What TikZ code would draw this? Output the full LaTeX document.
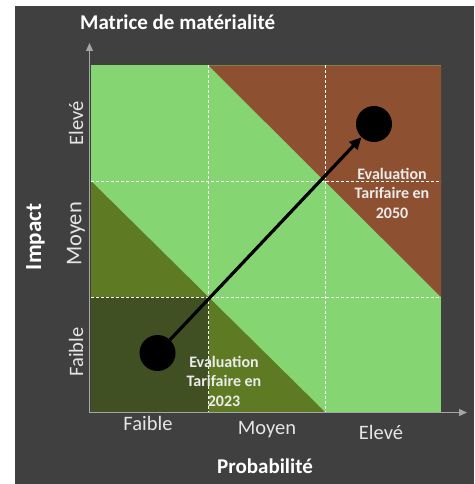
\documentclass[tikz,border=0pt]{standalone}
\usepackage{fontspec}
\setmainfont{Carlito}
\usetikzlibrary{arrows.meta}
\definecolor{bgdark}{HTML}{404040}
\definecolor{lgreen}{HTML}{85D673}
\definecolor{brownc}{HTML}{8D5030}
\definecolor{olivec}{HTML}{5E7A23}
\definecolor{darkolive}{HTML}{405023}
\definecolor{axisgray}{HTML}{A6A6A6}
\tikzset{
  gridline/.style={white, line width=0.9pt, dash pattern=on 3pt off 2pt},
  axisline/.style={axisgray, line width=1.2pt, -{Triangle[length=8pt,width=7pt]}},
  ticklbl/.style={text=white!90!black, font=\fontsize{20.5}{22}\selectfont, inner sep=0pt},
  axtitle/.style={text=white, font=\bfseries\fontsize{21}{23}\selectfont, inner sep=0pt},
  evallbl/.style={text=white!92!black, font=\bfseries\fontsize{16}{19.5}\selectfont, align=center, inner sep=0pt},
  dot/.style={circle, fill=black, minimum size=36pt, inner sep=0pt},
}
\begin{document}
\begin{tikzpicture}[x=1pt,y=-1pt]
\useasboundingbox (0,0) rectangle (474,484);
\fill[white] (0,0) rectangle (474,484);
\fill[bgdark] (15,6) rectangle (474,484);
% regions
\fill[lgreen] (91,65.5) rectangle (441,412);
\fill[brownc] (208.5,65.5) -- (441,65.5) -- (441,297) -- cycle;
\fill[olivec] (91,181) -- (325,412) -- (91,412) -- cycle;
\fill[darkolive] (91,297) rectangle (208.5,412);
% dashed grid
\draw[gridline] (208.5,65.5) -- (208.5,412);
\draw[gridline] (325,65.5) -- (325,412);
\draw[gridline] (91,181) -- (441,181);
\draw[gridline] (91,297) -- (441,297);
% axes
\coordinate (O) at (89.5,412.5);
\coordinate (ytip) at (89.5,43);
\coordinate (xtip) at (467,412.5);
\draw[axisline] (O) -- (ytip);
\draw[axisline] (O) -- (xtip);
% title
\node[axtitle, anchor=west] (title) at (80,22) {Matrice de matérialité};
% y labels
\node[ticklbl, rotate=90] (yE) at (76,123.5) {Elevé};
\node[ticklbl, rotate=90, font=\fontsize{22.5}{24}\selectfont] (yM) at (76,234) {Moyen};
\node[ticklbl, rotate=90] (yF) at (76,352) {Faible};
\node[axtitle, rotate=90, font=\bfseries\fontsize{23}{25}\selectfont] (yT) at (35.5,237) {Impact};
% x labels
\node[ticklbl] (xF) at (148,423) {Faible};
\node[ticklbl] (xM) at (267,430) {Moyen};
\node[ticklbl] (xE) at (381,432) {Elevé};
\node[axtitle] (xT) at (265,466) {Probabilité};
% circles and arrow
\node[dot] (c1) at (157.5,353) {};
\node[dot] (c2) at (374,124) {};
\draw[line width=3.2pt, -{Triangle[length=12pt,width=11pt]}] (c1) -- (c2);
% evaluation labels
\node[evallbl] (e1) at (224,381) {Evaluation\\Tarifaire en\\2023};
\node[evallbl] (e2) at (392,193) {Evaluation\\Tarifaire en\\2050};
\end{tikzpicture}
\end{document}
